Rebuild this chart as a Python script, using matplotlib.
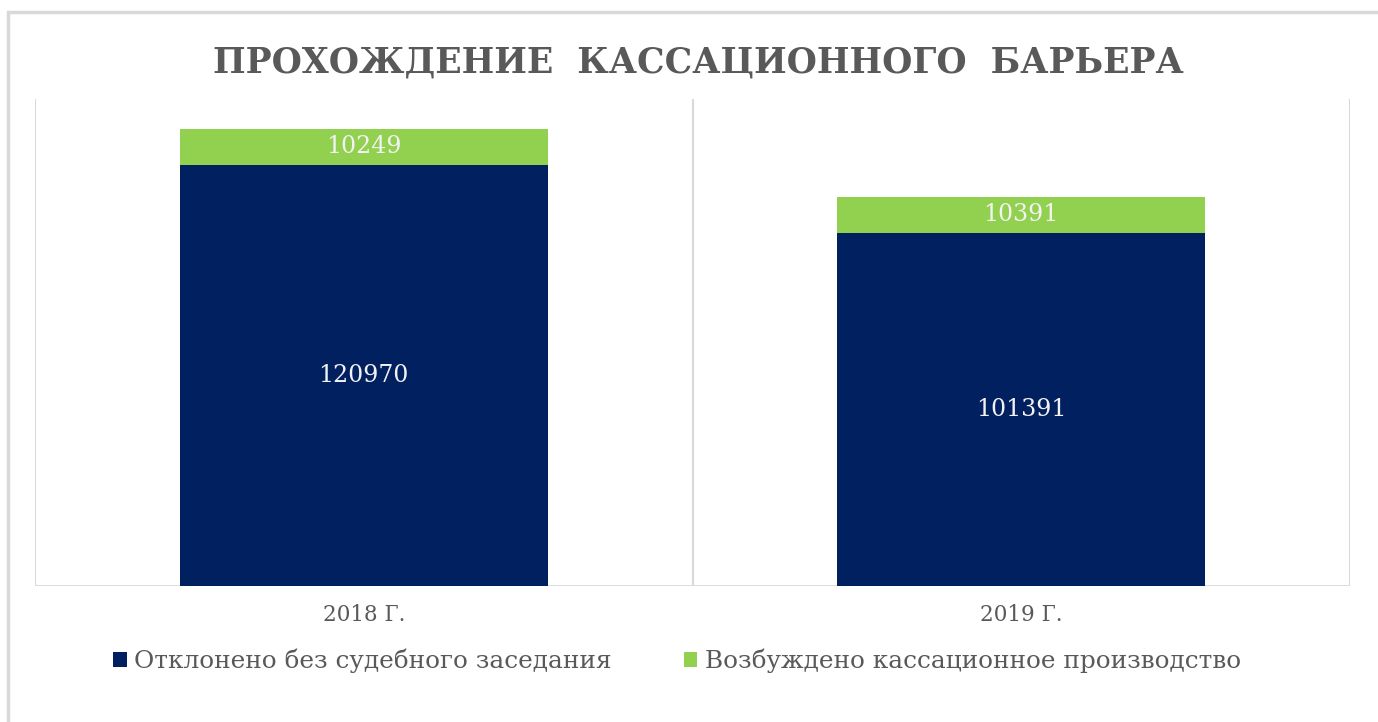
import matplotlib
matplotlib.use("Agg")
import matplotlib.pyplot as plt
from matplotlib.patches import Rectangle

categories = ["2018 Г.", "2019 Г."]
rejected = [120970, 101391]
opened = [10249, 10391]
series_names = ["Отклонено без судебного заседания", "Возбуждено кассационное производство"]
title = "ПРОХОЖДЕНИЕ  КАССАЦИОННОГО  БАРЬЕРА"

NAVY = "#002060"
GREEN = "#92D050"
GRID = "#D9D9D9"
TXT = "#595959"
SERIF = ["DejaVu Serif"]

W, H = 1378, 722
fig = plt.figure(figsize=(W / 100, H / 100), dpi=100)
fig.patch.set_facecolor("white")

# outer frame (left and top edges visible)
fig.patches.append(Rectangle((8 / W, -0.1), 1.2, (H - 12) / H + 0.1, transform=fig.transFigure,
                             fill=False, edgecolor=GRID, linewidth=2.5))

ax = fig.add_axes([35 / W, (H - 586) / H, 1315 / W, 487 / H])
x = list(range(len(categories)))
bw = 0.56
b1 = ax.bar(x, rejected, bw, color=NAVY, label=series_names[0], zorder=3)
b2 = ax.bar(x, opened, bw, bottom=rejected, color=GREEN, label=series_names[1], zorder=3)

for i in x:
    ax.text(i, rejected[i] / 2, str(rejected[i]), ha="center", va="center",
            color="#F2F2F2", fontsize=17, family=SERIF, zorder=4)
    ax.text(i, rejected[i] + opened[i] / 2, str(opened[i]), ha="center", va="center",
            color="#F2F2F2", fontsize=17, family=SERIF, zorder=4)

ax.set_xlim(-0.5, 1.5)
ax.set_ylim(0, 139800)
for xv in [-0.5, 0.5, 1.5]:
    ax.axvline(xv, color=GRID, linewidth=1.5, zorder=1)
ax.axhline(0, color=GRID, linewidth=2, zorder=2)
for s in ax.spines.values():
    s.set_visible(False)
ax.set_yticks([])
ax.set_xticks(x)
ax.set_xticklabels(categories, family=SERIF, fontsize=15.5, color=TXT)
ax.tick_params(axis="x", length=0, pad=13)

fig.text(698 / W, 1 - 62 / H, title, ha="center", va="center", family=SERIF,
         fontsize=24.9, fontweight="bold", color=TXT)

leg = fig.legend(handles=[b1, b2], labels=series_names, loc="center",
                 bbox_to_anchor=(677 / W, 1 - 661 / H), ncol=2, frameon=False,
                 prop={"family": SERIF, "size": 17.8}, handlelength=0.55, handleheight=0.55,
                 handletextpad=0.3, columnspacing=2.9)
for t in leg.get_texts():
    t.set_color(TXT)

fig.savefig("out.png", dpi=100)
